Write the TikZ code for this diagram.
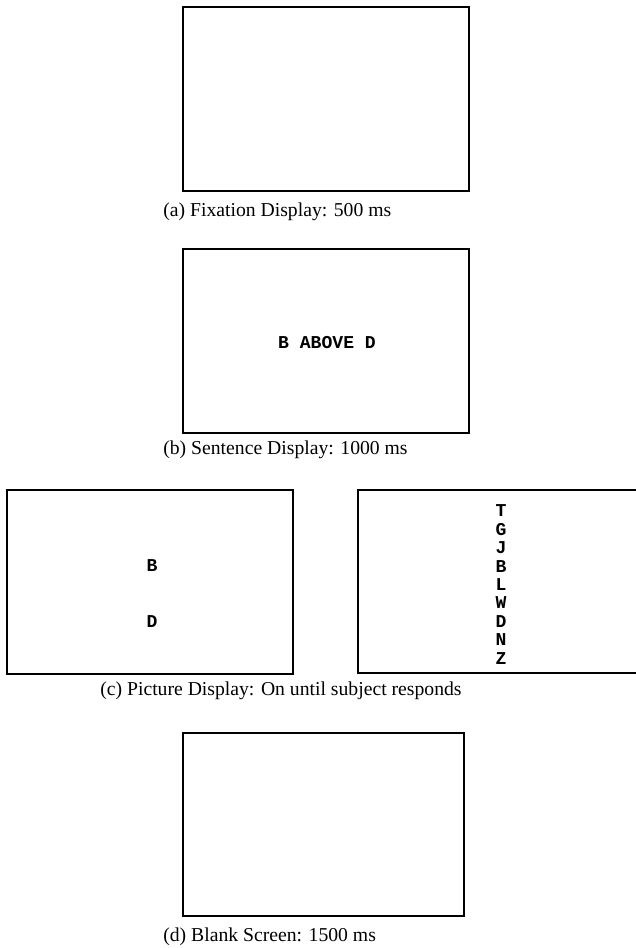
\documentclass[tikz,border=0pt]{standalone}
\usepackage{fontspec}
\setmainfont{Liberation Serif}
\setmonofont{Liberation Mono}
\usetikzlibrary{positioning}

\tikzset{
  screen/.style={draw, line width=0.8pt, inner sep=0pt},
  caption/.style={anchor=west, inner sep=0pt, font=\fontsize{11.2}{13}\selectfont},
  stim/.style={inner sep=0pt, font=\fontsize{10.3}{12}\selectfont\ttfamily\bfseries},
}

\begin{document}
\begin{tikzpicture}[x=0.02cm, y=-0.02cm]
  \useasboundingbox (0,0) rectangle (636,948);
  \clip (0,0) rectangle (636,948);

  % (a) fixation
  \node[screen, minimum width=286*0.02cm, minimum height=184*0.02cm] (fixbox) at (326,99) {};
  \node[caption] (fixcap) at (163,212) {(a) Fixation Display: 500 ms};

  % (b) sentence
  \node[screen, minimum width=286*0.02cm, minimum height=184*0.02cm] (sentbox) at (326,341) {};
  \node[stim] (sent) at (327,343) {B ABOVE D};
  \node[caption] (sentcap) at (163,450) {(b) Sentence Display: 1000 ms};

  % (c) picture, two screens
  \node[screen, minimum width=286*0.02cm, minimum height=184*0.02cm] (picbox) at (150,582) {};
  \node[stim] (picb) at (152,566) {B};
  \node[stim] (picd) at (152,622) {D};
  \node[screen, minimum width=400*0.02cm, minimum height=183*0.02cm] (listbox) at (558,581.5) {};
  \foreach \ltr [count=\i from 0] in {T,G,J,B,L,W,D,N,Z}
    \node[stim] (ltr\i) at (501,511+18.4*\i) {\ltr};
  \node[caption] (piccap) at (100,691) {(c) Picture Display: On until subject responds};

  % (d) blank
  \node[screen, minimum width=281*0.02cm, minimum height=183*0.02cm] (blankbox) at (323.5,824.5) {};
  \node[caption] (blankcap) at (163,937) {(d) Blank Screen: 1500 ms};

\end{tikzpicture}
\end{document}
